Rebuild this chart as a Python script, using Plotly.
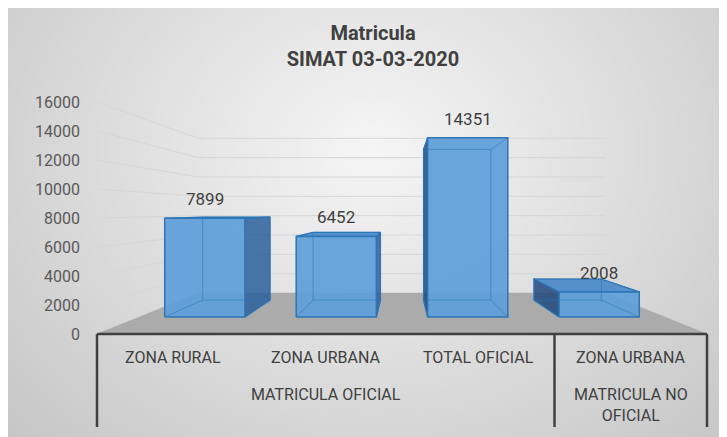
import math, zlib, struct, base64, textwrap
import plotly.graph_objects as go

# ---------------- data ----------------
categories = ["ZONA RURAL", "ZONA URBANA", "TOTAL OFICIAL", "ZONA URBANA"]
groups = ["MATRICULA OFICIAL", "MATRICULA OFICIAL", "MATRICULA OFICIAL", "MATRICULA NO OFICIAL"]
values = [7899, 6452, 14351, 2008]
y_ticks = [0, 2000, 4000, 6000, 8000, 10000, 12000, 14000, 16000]
title_lines = ["Matricula", "SIMAT 03-03-2020"]

# ---------------- perspective style constants ----------------
VP_X = (len(categories) - 1) / 2.0   # vanishing point (data units)
VP_Y = 8480.0
S_WALL = 0.667    # depth scale of back wall
S_FRONT = 0.862   # depth scale of bar front faces
S_BACK = 0.724    # depth scale of bar back faces
HALF = 0.305      # half bar width
Y_MAX = y_ticks[-1]
FONT = "Roboto, 'Open Sans', sans-serif"

# page offset caused by the default body margin
OFF_X, OFF_Y = 8, 8
W, H = 727 - OFF_X, 437 - OFF_Y
PLOT_L, PLOT_R, PLOT_T, PLOT_B = 97, 707, 102, 334          # page pixels
ML, MR = PLOT_L - OFF_X, W - (PLOT_R - OFF_X)
MT, MB = PLOT_T - OFF_Y, H - (PLOT_B - OFF_Y)
PW, PH = PLOT_R - PLOT_L, PLOT_B - PLOT_T


def proj(x, v, s):
    return VP_X + s * (x - VP_X), VP_Y + s * (v - VP_Y)


def px2paper_x(px):
    return (px - PLOT_L) / PW


def px2paper_y(py):
    return (PLOT_B - py) / PH


# ---------------- background gradient image ----------------
def make_bg(w, h, x0, y0, x1, y1):
    rows = bytearray()
    for j in range(h):
        rows.append(0)
        py = y0 + (j + 0.5) * (y1 - y0) / h
        for i in range(w):
            pxx = x0 + (i + 0.5) * (x1 - x0) / w
            d = math.hypot((pxx - 372) / 360.0, (py - 150) / 300.0)
            v = 246 - 34 * d
            rows.append(int(max(0, min(255, v))))
    raw = zlib.compress(bytes(rows), 9)

    def chunk(t, data):
        return struct.pack(">I", len(data)) + t + data + struct.pack(">I", zlib.crc32(t + data) & 0xffffffff)

    png = (b"\x89PNG\r\n\x1a\n" + chunk(b"IHDR", struct.pack(">IIBBBBB", w, h, 8, 0, 0, 0, 0))
           + chunk(b"IDAT", raw) + chunk(b"IEND", b""))
    return "data:image/png;base64," + base64.b64encode(png).decode()


BG_X0, BG_Y0, BG_X1, BG_Y1 = 8, 3, 727, 437
bg_src = make_bg(240, 145, BG_X0, BG_Y0, BG_X1, BG_Y1)

fig = go.Figure()

x_lo, x_hi = -0.5, len(categories) - 0.5

# ---------------- gridlines (back wall + left wall) ----------------
gx, gy = [], []
for t in y_ticks[1:]:
    a = proj(x_lo, t, S_WALL)
    b = proj(x_hi, t, S_WALL)
    gx += [x_lo, a[0], b[0], None]
    gy += [t, a[1], b[1], None]
fig.add_trace(go.Scatter(x=gx, y=gy, mode="lines", line=dict(color="#d6d6d6", width=1),
                         hoverinfo="skip", showlegend=False))

# ---------------- floor ----------------
f = [proj(x_lo, 0, 1), proj(x_hi, 0, 1), proj(x_hi, 0, S_WALL), proj(x_lo, 0, S_WALL)]
fig.add_trace(go.Scatter(x=[p[0] for p in f] + [f[0][0]], y=[p[1] for p in f] + [f[0][1]],
                         mode="lines", fill="toself", fillcolor="#ababab",
                         line=dict(color="#ababab", width=0.5), hoverinfo="skip", showlegend=False))

# ---------------- bars ----------------
EDGE = "#2e75b6"
for i, v in enumerate(values):
    xl, xr = i - HALF, i + HALF
    FBL, FBR, FTR, FTL = proj(xl, 0, S_FRONT), proj(xr, 0, S_FRONT), proj(xr, v, S_FRONT), proj(xl, v, S_FRONT)
    BBL, BBR, BTR, BTL = proj(xl, 0, S_BACK), proj(xr, 0, S_BACK), proj(xr, v, S_BACK), proj(xl, v, S_BACK)

    def poly(pts, fillcolor, lw=1.2):
        fig.add_trace(go.Scatter(x=[p[0] for p in pts] + [pts[0][0]], y=[p[1] for p in pts] + [pts[0][1]],
                                 mode="lines", fill="toself", fillcolor=fillcolor,
                                 line=dict(color=EDGE, width=lw), hoverinfo="skip", showlegend=False))

    # visible side faces
    if BBL[0] < FBL[0]:
        poly([FBL, FTL, BTL, BBL], "rgba(30,72,125,0.85)")
    if BBR[0] > FBR[0]:
        poly([FBR, FTR, BTR, BBR], "rgba(45,95,155,0.85)")
    if BTL[1] > FTL[1]:
        poly([FTL, FTR, BTR, BTL], "rgba(70,135,200,0.9)")
    # front face
    poly([FBL, FBR, FTR, FTL], "rgba(95,158,217,0.93)", lw=1.5)
    # see-through wireframe
    wx, wy = [], []
    for a, b in [(BBL, BBR), (BBR, BTR), (BTR, BTL), (BTL, BBL),
                 (FBL, BBL), (FBR, BBR), (FTR, BTR), (FTL, BTL)]:
        wx += [a[0], b[0], None]
        wy += [a[1], b[1], None]
    fig.add_trace(go.Scatter(x=wx, y=wy, mode="lines", line=dict(color="rgba(46,117,182,0.55)", width=1),
                             hoverinfo="skip", showlegend=False))
    # data label
    cx, cy = proj(i, v, S_FRONT)
    fig.add_annotation(x=cx, y=cy, xref="x", yref="y", text=str(v), showarrow=False,
                       yanchor="middle", yshift=19, font=dict(family=FONT, size=17, color="#404040"))

# ---------------- category table ----------------
for i, c in enumerate(categories):
    fig.add_annotation(x=i, y=px2paper_y(357), xref="x", yref="paper", text=c, showarrow=False,
                       yanchor="middle", font=dict(family=FONT, size=16, color="#404040"))

spans = []
start = 0
for i in range(1, len(groups) + 1):
    if i == len(groups) or groups[i] != groups[start]:
        spans.append((groups[start], start, i - 1))
        start = i
for g, a, b in spans:
    n = b - a + 1
    lines = textwrap.wrap(g, 13 * n)
    fig.add_annotation(x=(a + b) / 2, y=px2paper_y(383), xref="x", yref="paper", yanchor="top",
                       text="<br>".join(lines), showarrow=False,
                       font=dict(family=FONT, size=16, color="#404040"))

AX = "#404040"
shapes = [dict(type="line", xref="paper", yref="paper", x0=0, x1=1, y0=0, y1=0,
               line=dict(color=AX, width=2.5))]
bounds = [0] + [b + 1 for _, _, b in spans]
for bnd in bounds:
    xp = bnd / len(categories)
    shapes.append(dict(type="line", xref="paper", yref="paper", x0=xp, x1=xp, y0=0,
                       y1=px2paper_y(427), line=dict(color=AX, width=2.5)))

fig.update_layout(
    width=W, height=H,
    margin=dict(l=ML, r=MR, t=MT, b=MB, autoexpand=False),
    paper_bgcolor="white", plot_bgcolor="rgba(0,0,0,0)",
    showlegend=False,
    title=dict(text="<b>" + "<br>".join(title_lines) + "</b>", xref="container", yref="container",
               x=(373 - OFF_X) / W, xanchor="center", y=1 - (39.5 - OFF_Y) / H, yanchor="middle",
               font=dict(family=FONT, size=20, color="#404040")),
    xaxis=dict(range=[x_lo, x_hi], showgrid=False, zeroline=False, showticklabels=False,
               showline=False, fixedrange=True),
    yaxis=dict(range=[0, Y_MAX], tickvals=y_ticks, ticktext=[str(t) for t in y_ticks],
               showgrid=False, zeroline=False, showline=False, ticks="", ticklabelstandoff=16,
               tickfont=dict(family=FONT, size=16, color="#595959"), fixedrange=True),
    shapes=shapes,
    images=[dict(source=bg_src, xref="paper", yref="paper",
                 x=px2paper_x(BG_X0), y=px2paper_y(BG_Y0),
                 sizex=(BG_X1 - BG_X0) / PW, sizey=(BG_Y1 - BG_Y0) / PH,
                 xanchor="left", yanchor="top", sizing="stretch", layer="below")],
)

fig.write_html("out.html")
